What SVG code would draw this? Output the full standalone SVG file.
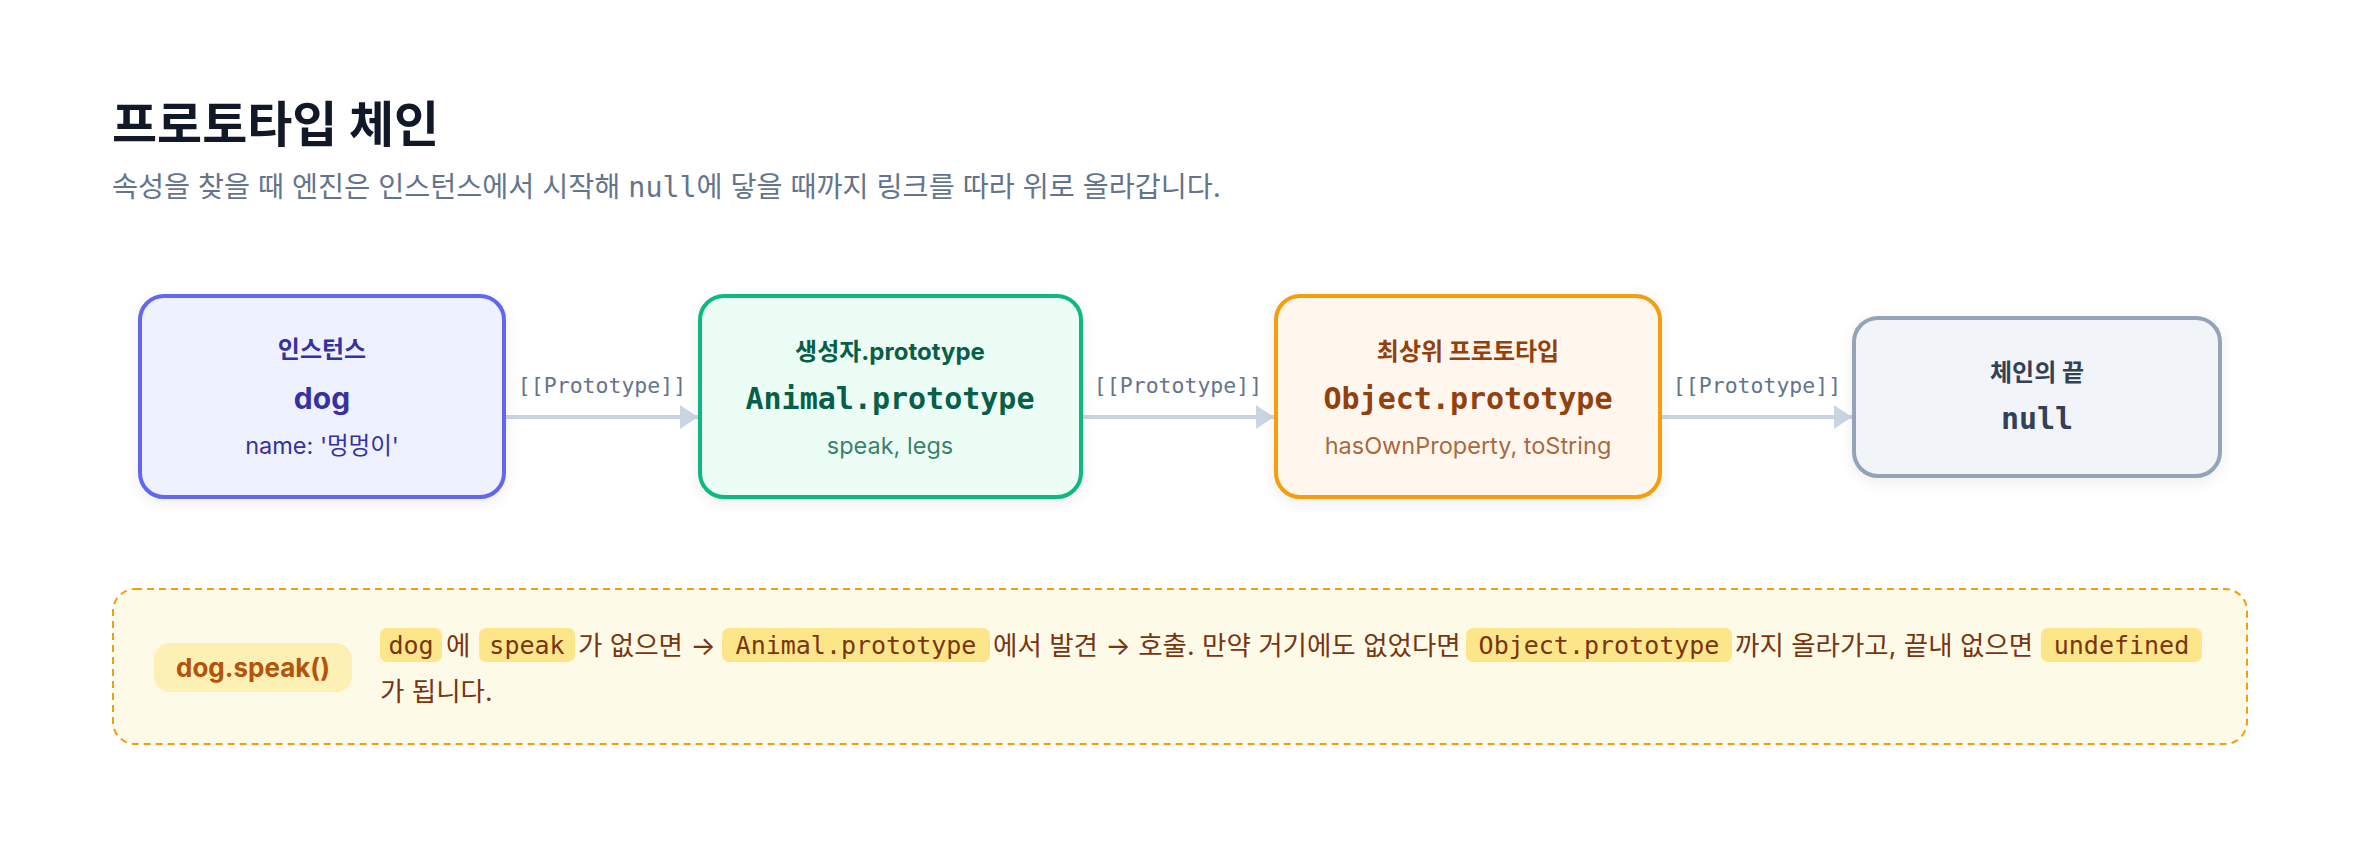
<svg xmlns="http://www.w3.org/2000/svg" width="2360" height="860" viewBox="0 0 2360 860">
<style>
.sans{font-family:Inter,"Noto Sans CJK KR","Noto Sans",sans-serif}
.mono{font-family:"DejaVu Sans Mono","Liberation Mono","Noto Sans CJK KR",monospace}
.title{font-size:49px;font-weight:700;fill:#111827}
.sub{font-size:28.3px;fill:#64748b}
.lbl{font-size:24px;font-weight:700;text-anchor:middle}
.main{font-size:30px;font-weight:700;text-anchor:middle}
.det{font-size:23.5px;text-anchor:middle}
.edge{stroke:#cbd5e1;stroke-width:4;fill:none}
.elbl{font-size:21.5px;fill:#64748b;text-anchor:middle}
.ctext{font-size:26.5px;fill:#78350f}
.code{font-size:25px;fill:#78350f;text-anchor:middle}
.pill{fill:#fde68a}
</style>
<defs>
<filter id="sh" x="-10%" y="-10%" width="120%" height="130%">
<feDropShadow dx="0" dy="4" stdDeviation="7" flood-color="#0f172a" flood-opacity="0.07"/>
</filter>
<marker id="ah" viewBox="0 0 18 24" refX="18" refY="12" markerWidth="18" markerHeight="24" markerUnits="userSpaceOnUse" orient="auto">
<path d="M0,0 L18,12 L0,24 Z" fill="#cbd5e1"/>
</marker>
</defs>
<rect width="2360" height="860" fill="#ffffff"/>

<text class="sans title" x="112" y="142">프로토타입 체인</text>
<text class="sans sub" x="112" y="197">속성을 찾을 때 엔진은 인스턴스에서 시작해 <tspan class="mono">null</tspan>에 닿을 때까지 링크를 따라 위로 올라갑니다.</text>

<g id="connectors">
<line class="edge" x1="505" y1="417" x2="698" y2="417" marker-end="url(#ah)"/>
<text class="mono elbl" x="602" y="393">[[Prototype]]</text>
<line class="edge" x1="1082" y1="417" x2="1274" y2="417" marker-end="url(#ah)"/>
<text class="mono elbl" x="1178" y="393">[[Prototype]]</text>
<line class="edge" x1="1661" y1="417" x2="1852" y2="417" marker-end="url(#ah)"/>
<text class="mono elbl" x="1757" y="393">[[Prototype]]</text>
</g>

<g id="node-instance">
<rect x="140" y="296" width="364" height="201" rx="24" fill="#eef2ff" stroke="#6366f1" stroke-width="4" filter="url(#sh)"/>
<text class="sans lbl" x="322" y="358" fill="#3730a3">인스턴스</text>
<text class="sans main" x="322" y="409" fill="#3730a3">dog</text>
<text class="sans det" x="322" y="454" fill="#3730a3">name: '멍멍이'</text>
</g>

<g id="node-animal">
<rect x="700" y="296" width="381" height="201" rx="24" fill="#ecfdf5" stroke="#10b981" stroke-width="4" filter="url(#sh)"/>
<text class="sans lbl" x="890" y="360" fill="#065f46">생성자.prototype</text>
<text class="mono main" x="890" y="409" fill="#065f46">Animal.prototype</text>
<text class="sans det" x="890" y="454" fill="#065f46" fill-opacity="0.8">speak, legs</text>
</g>

<g id="node-object">
<rect x="1276" y="296" width="384" height="201" rx="24" fill="#fff7ed" stroke="#f59e0b" stroke-width="4" filter="url(#sh)"/>
<text class="sans lbl" x="1468" y="360" fill="#92400e">최상위 프로토타입</text>
<text class="mono main" x="1468" y="409" fill="#92400e">Object.prototype</text>
<text class="sans det" x="1468" y="454" fill="#92400e" fill-opacity="0.8">hasOwnProperty, toString</text>
</g>

<g id="node-null">
<rect x="1854" y="318" width="366" height="158" rx="24" fill="#f1f5f9" stroke="#94a3b8" stroke-width="4" filter="url(#sh)"/>
<text class="sans lbl" x="2037" y="381" fill="#334155">체인의 끝</text>
<text class="mono main" x="2037" y="429" fill="#334155">null</text>
</g>

<g id="callout">
<rect x="113" y="589" width="2134" height="155" rx="22" fill="#fefae8" stroke="#f59e0b" stroke-width="2" stroke-dasharray="7 5"/>
<rect x="154" y="643" width="198" height="49" rx="16" fill="#fdf0b5"/>
<text class="sans" x="253" y="677" font-size="26" font-weight="700" fill="#b45309" text-anchor="middle">dog.speak()</text>

<rect class="pill" x="380" y="628" width="62" height="34" rx="7"/>
<text class="mono code" x="411" y="654">dog</text>
<text class="sans ctext" x="446" y="655">에</text>
<rect class="pill" x="479" y="628" width="96" height="34" rx="7"/>
<text class="mono code" x="527" y="654">speak</text>
<text class="sans ctext" x="578" y="655">가 없으면 →</text>
<rect class="pill" x="722" y="628" width="268" height="34" rx="7"/>
<text class="mono code" x="856" y="654">Animal.prototype</text>
<text class="sans ctext" x="993" y="655">에서 발견 → 호출. 만약 거기에도 없었다면</text>
<rect class="pill" x="1466" y="628" width="266" height="34" rx="7"/>
<text class="mono code" x="1599" y="654">Object.prototype</text>
<text class="sans ctext" x="1735" y="655">까지 올라가고, 끝내 없으면</text>
<rect class="pill" x="2041" y="628" width="161" height="34" rx="7"/>
<text class="mono code" x="2121.5" y="654">undefined</text>
<text class="sans ctext" x="380" y="701">가 됩니다.</text>
</g>
</svg>
